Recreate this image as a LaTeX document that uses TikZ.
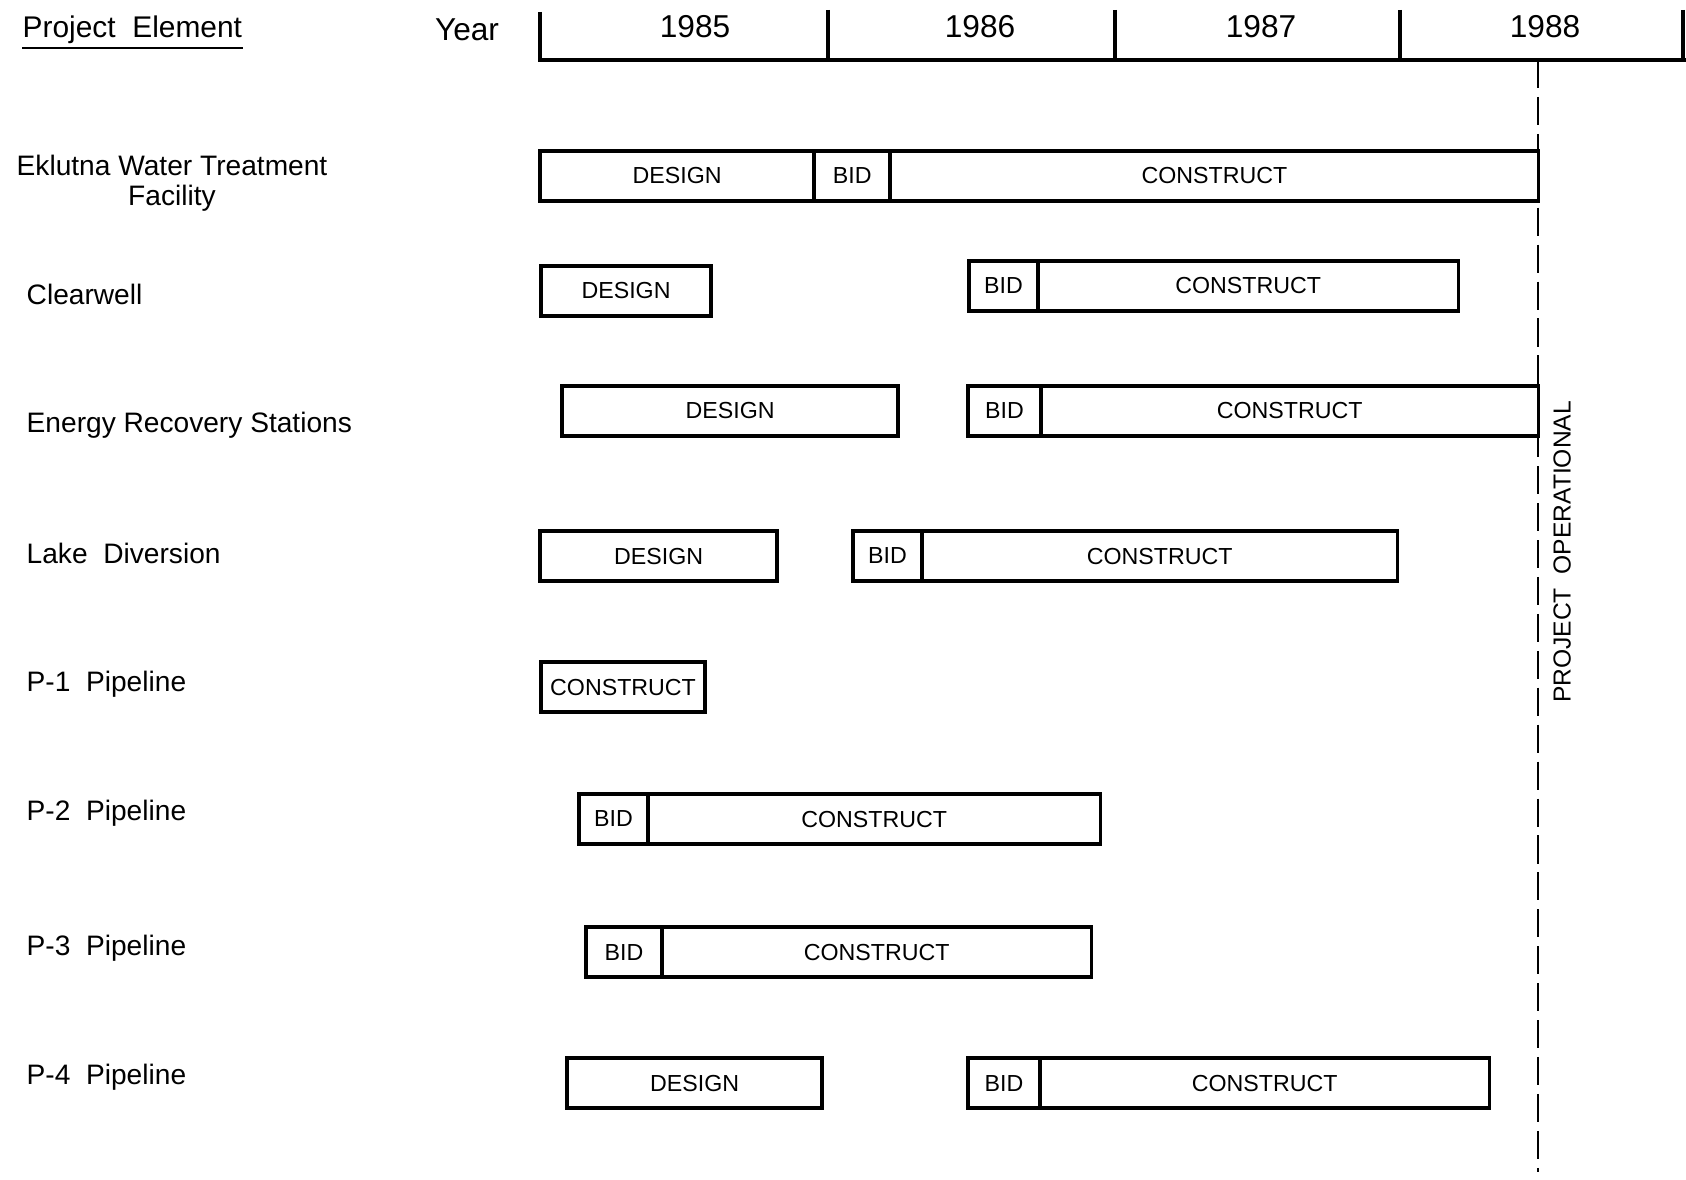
\documentclass[tikz,border=0pt]{standalone}
\usepackage{fontspec}
\setmainfont{Liberation Sans}
\tikzset{
  phase/.style={draw,line width=1pt,minimum height=0.5cm,inner sep=0pt,outer sep=0pt,
                anchor=west,font=\fontsize{6.6}{8}\selectfont},
  elem/.style={anchor=west,inner sep=0pt,font=\fontsize{8}{8.6}\selectfont},
  yr/.style={inner sep=0pt,font=\fontsize{9}{10}\selectfont},
  axisln/.style={line width=1pt},
  opline/.style={semithick,dash pattern=on 8pt off 2.5pt},
}

\begin{document}
\begin{tikzpicture}[x=0.01cm,y=-0.01cm]
  \useasboundingbox (0,0) rectangle (1686,1179);
  % heading and time axis
  \node[elem,font=\fontsize{8.5}{10}\selectfont] (hdr) at (22,30) {Project\ \ Element};
  \coordinate (ulY) at (0,48);
  \draw[semithick] (hdr.west |- ulY) -- (hdr.east |- ulY);
  \node[yr] (yearlbl) at (467,30) {Year};
  \draw[axisln] (540,12) -- (540,60) -- (1686,60);
  \foreach \x in {828,1115,1400,1683}
    \draw[axisln] (\x,10) -- (\x,60);
  \foreach \yl/\x in {1985/695,1986/980,1987/1261,1988/1545}
    \node[yr] (y\yl) at (\x,27) {\yl};

  % operational date
  \coordinate (opTop) at (1538,60);
  \coordinate (opBot) at (1538,1172);
  \draw[opline] (opTop) -- (opBot);
  \node[rotate=90,inner sep=0pt,font=\fontsize{7}{8}\selectfont] (oplbl) at (1562,552)
    {PROJECT\ \ OPERATIONAL};

  % project elements
  \node[elem,anchor=center,align=center] (ewt) at (172,183) {Eklutna Water Treatment\\Facility};
  \node[elem] (clw) at (26,294) {Clearwell};
  \node[elem] (ers) at (26,425) {Energy Recovery Stations};
  \node[elem] (lkd) at (26,553) {Lake\ \ Diversion};
  \node[elem] (p1) at (26,684) {P-1\ \ Pipeline};
  \node[elem] (p2) at (26,813) {P-2\ \ Pipeline};
  \node[elem] (p3) at (26,948) {P-3\ \ Pipeline};
  \node[elem] (p4) at (26,1077) {P-4\ \ Pipeline};

  % bars
  \node[phase,minimum width=2.74cm] (ewtD) at (540,176) {DESIGN};
  \node[phase,minimum width=0.76cm] (ewtB) at (ewtD.east) {BID};
  \node[phase,minimum width=6.48cm] (ewtC) at (ewtB.east) {CONSTRUCT};

  \node[phase,minimum width=1.70cm] (clwD) at (541,291) {DESIGN};
  \node[phase,minimum width=0.69cm] (clwB) at (969,286) {BID};
  \node[phase,minimum width=4.20cm] (clwC) at (clwB.east) {CONSTRUCT};

  \node[phase,minimum width=3.36cm] (ersD) at (562,411) {DESIGN};
  \node[phase,minimum width=0.73cm] (ersB) at (968,411) {BID};
  \node[phase,minimum width=4.97cm] (ersC) at (ersB.east) {CONSTRUCT};

  \node[phase,minimum width=2.37cm] (lkdD) at (540,556) {DESIGN};
  \node[phase,minimum width=0.69cm] (lkdB) at (853,556) {BID};
  \node[phase,minimum width=4.75cm] (lkdC) at (lkdB.east) {CONSTRUCT};

  \node[phase,minimum width=1.64cm] (p1C) at (541,687) {CONSTRUCT};

  \node[phase,minimum width=0.69cm] (p2B) at (579,819) {BID};
  \node[phase,minimum width=4.52cm] (p2C) at (p2B.east) {CONSTRUCT};

  \node[phase,minimum width=0.76cm] (p3B) at (586,952) {BID};
  \node[phase,minimum width=4.29cm] (p3C) at (p3B.east) {CONSTRUCT};

  \node[phase,minimum width=2.55cm] (p4D) at (567,1083) {DESIGN};
  \node[phase,minimum width=0.72cm] (p4B) at (968,1083) {BID};
  \node[phase,minimum width=4.49cm] (p4C) at (p4B.east) {CONSTRUCT};
\end{tikzpicture}
\end{document}
